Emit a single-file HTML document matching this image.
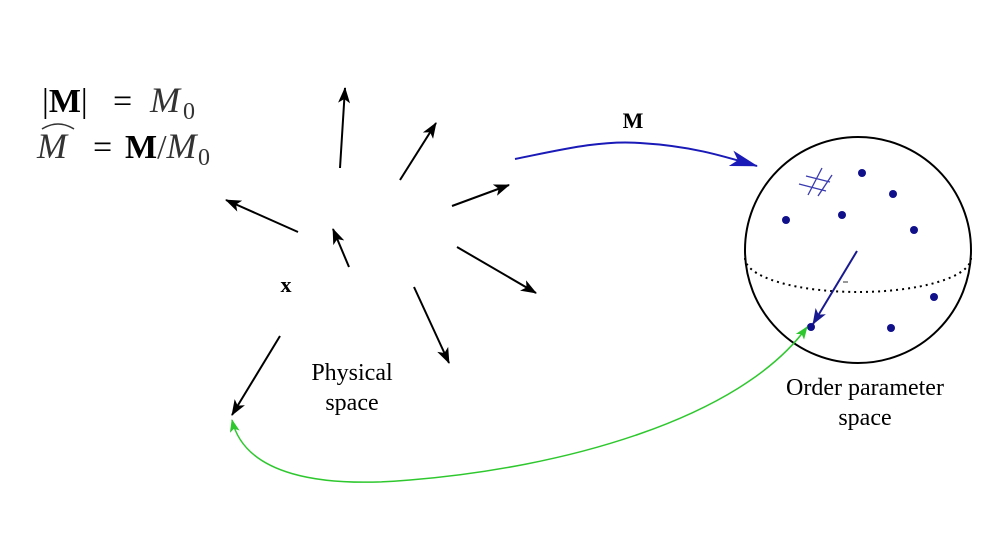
<!DOCTYPE html>
<html><head><style>
html,body{margin:0;padding:0;background:#fff;}
svg{display:block;}
text{font-family:"Liberation Serif",serif;}
</style></head><body>
<svg width="1000" height="551" viewBox="0 0 1000 551" xmlns="http://www.w3.org/2000/svg">
<defs>
<marker id="ak" markerWidth="16" markerHeight="12" refX="15" refY="6" orient="auto" markerUnits="userSpaceOnUse">
<path d="M0,0 L16,6 L0,12 L4,6 z" fill="#000"/></marker>
<marker id="ab" markerWidth="28" markerHeight="16" refX="27" refY="8" orient="auto" markerUnits="userSpaceOnUse">
<path d="M0,0 L28,8 L0,16 L7,8 z" fill="#1a1ab8"/></marker>
<marker id="ab2" markerWidth="16" markerHeight="12" refX="15" refY="6" orient="auto" markerUnits="userSpaceOnUse">
<path d="M0,0 L16,6 L0,12 L4,6 z" fill="#1a1a90"/></marker>
<marker id="ag" markerWidth="13" markerHeight="10" refX="12" refY="5" orient="auto-start-reverse" markerUnits="userSpaceOnUse">
<path d="M0,0 L13,5 L0,10 L3,5 z" fill="#2ec82e"/></marker>
</defs>

<!-- equations -->
<text x="42" y="112" font-size="34">|<tspan font-weight="bold">M</tspan>|</text>
<text x="113" y="112" font-size="34">=</text>
<text x="150" y="112" font-size="36" font-style="italic" fill="#333">M</text>
<text x="183" y="119" font-size="24" fill="#333">0</text>
<text x="37" y="158" font-size="36" font-style="italic" fill="#333">M</text>
<path d="M42,129 Q58,119 74,129" stroke="#333" stroke-width="1.5" fill="none"/>
<text x="93" y="158" font-size="34">=</text>
<text x="125" y="158" font-size="34"><tspan font-weight="bold">M</tspan><tspan fill="#333">/</tspan><tspan font-style="italic" fill="#333" font-size="36">M</tspan></text>
<text x="198" y="165" font-size="24" fill="#333">0</text>

<!-- black arrows -->
<g stroke="#000" stroke-width="2" fill="none" marker-end="url(#ak)">
<line x1="340" y1="168" x2="345" y2="88"/>
<line x1="400" y1="180" x2="436" y2="123"/>
<line x1="452" y1="206" x2="509" y2="185"/>
<line x1="298" y1="232" x2="226" y2="200"/>
<line x1="349" y1="267" x2="333" y2="229"/>
<line x1="457" y1="247" x2="536" y2="293"/>
<line x1="414" y1="287" x2="449" y2="363"/>
<line x1="280" y1="336" x2="232" y2="415"/>
</g>

<text x="286" y="292" font-size="22" font-weight="bold" text-anchor="middle">x</text>
<text x="352" y="380" font-size="24" text-anchor="middle">Physical</text>
<text x="352" y="410" font-size="24" text-anchor="middle">space</text>

<!-- M arrow -->
<text x="633" y="128" font-size="22" font-weight="bold" text-anchor="middle">M</text>
<path d="M515,159 C560,150 600,140 640,143 C690,146 720,155 757,166" stroke="#1a1ab8" stroke-width="2" fill="none" marker-end="url(#ab)"/>

<!-- sphere -->
<circle cx="858" cy="250" r="113" stroke="#000" stroke-width="2" fill="none"/>
<path d="M745,258 A113,34 0 0 0 971,258" stroke="#000" stroke-width="2" stroke-dasharray="2,4" fill="none"/>
<g fill="#10108a">
<circle cx="862" cy="173" r="4"/>
<circle cx="893" cy="194" r="4"/>
<circle cx="842" cy="215" r="4"/>
<circle cx="786" cy="220" r="4"/>
<circle cx="914" cy="230" r="4"/>
<circle cx="934" cy="297" r="4"/>
<circle cx="891" cy="328" r="4"/>
<circle cx="811" cy="327" r="4"/>
</g>
<g stroke="#3a3ab0" stroke-width="1.3">
<line x1="806" y1="176" x2="830" y2="182"/>
<line x1="799" y1="184" x2="826" y2="191"/>
<line x1="822" y1="168" x2="808" y2="195"/>
<line x1="832" y1="175" x2="818" y2="196"/>
</g>
<line x1="857" y1="251" x2="813" y2="324" stroke="#1a1a90" stroke-width="2" marker-end="url(#ab2)"/>
<line x1="843" y1="282" x2="848" y2="282" stroke="#333" stroke-width="1"/>

<text x="865" y="395" font-size="24" text-anchor="middle">Order parameter</text>
<text x="865" y="425" font-size="24" text-anchor="middle">space</text>

<!-- green -->
<path d="M232,420 C245,475 320,488 410,480 C560,468 740,420 807,327" stroke="#2ec82e" stroke-width="1.5" fill="none" marker-start="url(#ag)" marker-end="url(#ag)"/>
</svg>
</body></html>
